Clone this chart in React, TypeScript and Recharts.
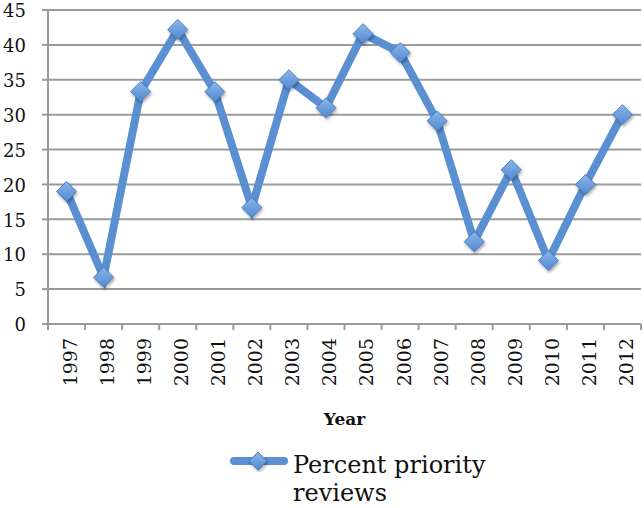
import React from "react";
import { LineChart, Line, XAxis, YAxis, CartesianGrid, Legend, Label } from "recharts";

const years = ["1997", "1998", "1999", "2000", "2001", "2002", "2003", "2004", "2005", "2006", "2007", "2008", "2009", "2010", "2011", "2012"];
const percentPriority = [19, 6.7, 33.3, 42.2, 33.3, 16.7, 35, 31, 41.6, 38.9, 29.1, 11.8, 22.1, 9.1, 20, 30];
const yTicks = [0, 5, 10, 15, 20, 25, 30, 35, 40, 45];

const data = years.map((year, i) => ({ year, value: percentPriority[i] }));

const FONT = "'DejaVu Serif', serif";
const GRID = "#9a9a9a";
const BLUE = "#5a8fd2";

const Diamond = ({ cx, cy, r = 10 }: any) => (
  <polygon
    points={`${cx},${cy - r} ${cx + r},${cy} ${cx},${cy + r} ${cx - r},${cy}`}
    fill="url(#markerFill)"
    stroke="#4b80c6"
    strokeWidth={1}
    filter="url(#markerShadow)"
  />
);

const YTick = ({ x, y, payload }: any) => (
  <text x={x} y={y} dy="0.4em" textAnchor="end" fontFamily={FONT} fontSize={18} fill="#111">
    {payload.value}
  </text>
);

const XTick = ({ x, y, payload, index }: any) => {
  const off = payload.offset ?? 0;
  const axisY = y - 14;
  return (
    <g>
      <line x1={x - off} x2={x - off} y1={axisY} y2={axisY + 6} stroke={GRID} strokeWidth={2} />
      {index === years.length - 1 && (
        <line x1={x + off} x2={x + off} y1={axisY} y2={axisY + 6} stroke={GRID} strokeWidth={2} />
      )}
      <text
        x={x}
        y={y}
        dy="0.55em"
        transform={`rotate(-90, ${x}, ${y})`}
        textAnchor="end"
        fontFamily={FONT}
        fontSize={19}
        fill="#111"
      >
        {payload.value}
      </text>
    </g>
  );
};

const LegendContent = () => (
  <div style={{ position: "relative", width: 644, height: 74, fontFamily: FONT }}>
    <svg style={{ position: "absolute", left: 230, top: 16 }} width={58} height={22}>
      <line x1={4} x2={54} y1={11} y2={11} stroke={BLUE} strokeWidth={8} strokeLinecap="round" />
      <Diamond cx={28} cy={11} r={9} />
    </svg>
    <div style={{ position: "absolute", left: 293, top: 17, width: 230, fontSize: 24, lineHeight: "28px", color: "#111" }}>
      Percent priority reviews
    </div>
  </div>
);

export default function App() {
  return (
    <div style={{ position: "absolute", left: 0, top: 0, width: 644, height: 508, background: "#fff" }}>
      <svg width={0} height={0} style={{ position: "absolute" }}>
        <defs>
          <linearGradient id="markerFill" x1="0" y1="0" x2="0" y2="1">
            <stop offset="0%" stopColor="#8cb6ea" />
            <stop offset="100%" stopColor="#5089d0" />
          </linearGradient>
          <filter id="markerShadow" x="-50%" y="-50%" width="200%" height="200%">
            <feDropShadow dx="1" dy="2" stdDeviation="1.5" floodColor="#000" floodOpacity="0.35" />
          </filter>
        </defs>
      </svg>
      <LineChart width={644} height={508} data={data} margin={{ top: 10, right: 3, left: 0, bottom: 0 }}>
        <CartesianGrid vertical={false} stroke={GRID} strokeWidth={2} />
        <XAxis
          dataKey="year"
          scale="band"
          height={110}
          tickLine={false}
          tickSize={6}
          tickMargin={8}
          interval={0}
          axisLine={{ stroke: GRID, strokeWidth: 2 }}
          tick={<XTick />}
        >
          <Label value="Year" position="insideBottom" offset={9} fontFamily={FONT} fontSize={17} fontWeight="bold" fill="#111" />
        </XAxis>
        <YAxis
          width={48}
          domain={[0, 45]}
          ticks={yTicks}
          tickSize={6}
          tickMargin={16}
          tickLine={{ stroke: GRID, strokeWidth: 2 }}
          axisLine={{ stroke: GRID, strokeWidth: 2 }}
          tick={<YTick />}
        />
        <Legend verticalAlign="bottom" wrapperStyle={{ left: 0, width: 644, height: 74 }} content={<LegendContent />} />
        <Line
          type="linear"
          dataKey="value"
          stroke={BLUE}
          strokeWidth={8}
          dot={(p: any) => <Diamond key={p.index} cx={p.cx} cy={p.cy} />}
          activeDot={false}
          isAnimationActive={false}
        />
      </LineChart>
    </div>
  );
}
